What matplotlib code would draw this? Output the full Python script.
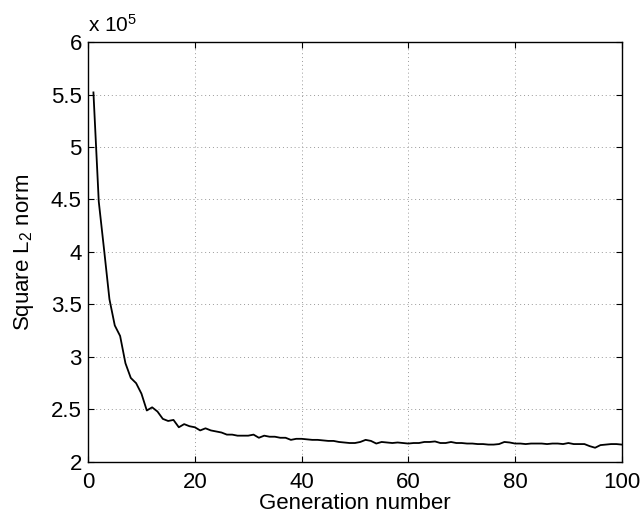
import numpy as np
import matplotlib
matplotlib.use('Agg')
import matplotlib.pyplot as plt

# ── data (values in units of 1e5) ───────────────────────────────────────────
generations = np.arange(1, 101)
norm_sq = [
    5.52, 4.48, 4.02, 3.55, 3.30, 3.20, 2.94, 2.80, 2.75, 2.65,
    2.49, 2.52, 2.48, 2.41, 2.39, 2.40, 2.33, 2.36, 2.34, 2.33,
    2.30, 2.32, 2.30, 2.29, 2.28, 2.26, 2.26, 2.25, 2.25, 2.25,
    2.26, 2.23, 2.25, 2.24, 2.24, 2.23, 2.23, 2.21, 2.22, 2.22,
    2.215, 2.21, 2.21, 2.205, 2.20, 2.20, 2.19, 2.185, 2.18, 2.18,
    2.19, 2.21, 2.20, 2.175, 2.19, 2.185, 2.18, 2.185, 2.18, 2.175,
    2.18, 2.18, 2.19, 2.19, 2.195, 2.18, 2.18, 2.19, 2.18, 2.18,
    2.175, 2.175, 2.17, 2.17, 2.165, 2.165, 2.17, 2.19, 2.185, 2.175,
    2.175, 2.17, 2.175, 2.175, 2.175, 2.17, 2.175, 2.175, 2.17, 2.18,
    2.17, 2.17, 2.17, 2.15, 2.135, 2.16, 2.165, 2.17, 2.17, 2.165,
]
x_ticks = [0, 20, 40, 60, 80, 100]
y_ticks = [2, 2.5, 3, 3.5, 4, 4.5, 5, 5.5, 6]
y_ticklabels = ['2', '2.5', '3', '3.5', '4', '4.5', '5', '5.5', '6']

plt.rcParams.update({
    'font.family': ['Liberation Sans', 'DejaVu Sans'],
    'font.size': 16,
    'mathtext.fontset': 'custom',
    'mathtext.rm': 'Liberation Sans',
    'mathtext.it': 'Liberation Sans',
})

fig = plt.figure(figsize=(6.43, 5.19), dpi=100)
ax = fig.add_axes([0.137, 0.110, 0.830, 0.809])

ax.plot(generations, norm_sq, color='black', lw=1.3)

ax.set_xlim(0, 100)
ax.set_ylim(2, 6)
ax.set_xticks(x_ticks)
ax.set_yticks(y_ticks)
ax.set_yticklabels(y_ticklabels)
ax.tick_params(direction='in', top=True, right=True, length=4, width=0.8,
               labelsize=16)
ax.tick_params(axis='x', pad=7)
ax.tick_params(axis='y', pad=4.5)
ax.grid(True, ls=(0, (1, 3)), color='#999999', lw=0.7)
for sp in ax.spines.values():
    sp.set_linewidth(1.0)

ax.set_xlabel('Generation number', fontsize=16, labelpad=0)
ax.set_ylabel('Square L$_2$ norm', fontsize=16, labelpad=11)
ax.text(0.0, 1.015, 'x 10$^5$', transform=ax.transAxes, fontsize=15,
        ha='left', va='bottom')

plt.savefig('out.png', dpi=100)
